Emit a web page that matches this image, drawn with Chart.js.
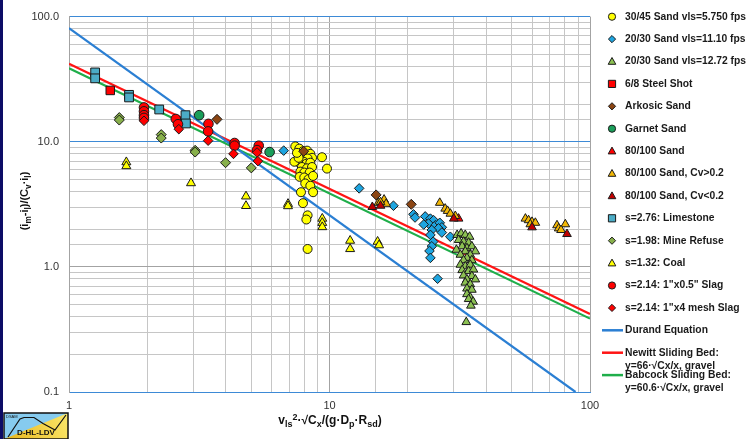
<!DOCTYPE html>
<html>
<head>
<meta charset="utf-8">
<script src="https://cdn.jsdelivr.net/npm/chart.js@4.4.0/dist/chart.umd.min.js"></script>
<style>
  html, body { margin: 0; padding: 0; background: #fff; }
  #caixa { position: relative; width: 746px; height: 439px; }
  canvas { display: block; }
</style>
</head>
<body>
<div id="caixa"><canvas id="grafico" width="746" height="439"></canvas></div>
<script>
// pontos: [x, y]
const sand3045 = [[7.39,9.18],[7.66,8.81],[7.91,8.39],[7.77,7.80],[8.20,8.49],[8.44,8.00],[8.57,7.44],[8.24,7.35],[7.96,6.92],[7.73,6.67],[8.15,6.67],[8.44,6.80],[7.84,6.28],[8.20,6.13],[8.57,6.28],[7.73,5.77],[8.00,5.67],[8.39,5.67],[7.68,5.24],[8.00,5.18],[8.31,5.02],[8.65,5.33],[8.07,4.64],[8.44,4.45],[7.77,3.95],[8.65,3.95],[7.91,3.23],[8.24,2.58],[8.15,2.39],[8.24,1.39],[9.36,7.52],[9.78,6.10],[7.33,6.92],[7.61,7.44],[7.50,8.15]];
const sand2030Lento = [[6.67,8.49],[13.0,4.24],[17.6,3.08],[21.0,2.63],[21.3,2.48],[23.3,2.53],[24.4,2.43],[25.1,2.36],[24.0,2.22],[23.0,2.18],[25.5,2.15],[26.5,2.25],[27.0,2.07],[26.2,2.03],[24.7,1.97],[27.0,1.88],[29.1,1.74],[24.4,1.80],[25.0,1.59],[24.7,1.46],[24.2,1.34],[24.4,1.18],[26.0,0.804]];
const sand2030Rapido = [[30.9,1.80],[32.0,1.85],[33.2,1.80],[34.5,1.74],[31.3,1.64],[32.7,1.59],[34.2,1.56],[32.3,1.46],[33.7,1.41],[35.2,1.46],[30.7,1.37],[33.2,1.33],[36.3,1.33],[31.8,1.25],[34.7,1.25],[33.7,1.18],[32.7,1.13],[35.2,1.13],[31.8,1.04],[33.2,1.01],[34.7,1.04],[32.3,0.942],[34.2,0.925],[35.7,0.952],[32.7,0.854],[35.2,0.845],[33.7,0.794],[36.3,0.794],[33.2,0.748],[34.7,0.726],[33.7,0.671],[35.2,0.656],[33.7,0.605],[34.7,0.570],[34.2,0.553],[35.6,0.527],[34.9,0.490],[33.5,0.362]];
const steelShot = [[1.44,25.7]];
const arkosic = [[3.70,15.1],[7.96,8.39],[15.1,3.76],[20.6,3.16]];
const garnet = [[3.16,16.3],[5.89,8.27]];
const sand80100 = [[31.3,2.43]];
const sand80100Alto = [[15.4,3.25],[16.2,3.45],[16.5,3.19],[15.7,3.29],[26.5,3.25],[27.8,2.92],[28.4,2.80],[29.1,2.66],[30.4,2.55],[56.5,2.43],[58.1,2.36],[59.9,2.29],[61.7,2.25],[59.0,2.19],[74.7,2.15],[80.4,2.19],[75.8,2.03],[77.4,1.97]];
const sand80100Baixo = [[14.6,3.01],[15.7,3.08],[30.0,2.43],[59.9,2.07],[81.6,1.83]];
const limestone = [[1.26,35.8],[1.26,32.1],[1.70,23.7],[1.70,22.6],[2.22,18.1],[2.80,16.3],[2.81,14.0]];
const mineRefuse = [[1.56,15.6],[1.56,14.9],[2.26,11.4],[2.26,10.7],[3.05,8.54],[3.05,8.27],[3.99,6.80],[5.01,6.18]];
const coal = [[1.66,6.87],[1.66,6.39],[2.94,4.67],[4.78,3.66],[4.78,3.07],[6.93,3.19],[6.93,3.06],[9.38,2.43],[9.38,2.25],[9.38,2.08],[12.0,1.62],[12.0,1.39],[15.3,1.59],[15.5,1.49]];
const slagGrosso = [[1.94,18.8],[1.94,17.5],[1.94,16.3],[1.94,15.5],[2.57,15.2],[2.62,13.8],[3.43,13.9],[3.42,12.1],[4.32,9.77],[4.32,9.30],[5.35,9.30],[5.27,8.57]];
const slagMesh = [[1.94,14.7],[2.64,12.6],[3.42,10.2],[4.28,8.0],[5.27,8.2],[5.31,7.0]];

const durand = [[1,81],[88,0.1]];
const newitt = [[1,42],[100,0.42]];
const babcock = [[1,38.6],[100,0.386]];

const ticksX = [1, 10, 100];
const ticksY = [0.1, 1, 10, 100];

const FONTE = '"Liberation Sans", Arial, sans-serif';

const series = [
  { label: '30/45 Sand vls=5.750 fps', dados: sand3045, forma: 'circle', cor: '#ffff00', r: 4.5 },
  { label: '20/30 Sand vls=11.10 fps', dados: sand2030Lento, forma: 'rectRot', cor: '#1ea5e0', r: 4.8 },
  { label: '20/30 Sand vls=12.72 fps', dados: sand2030Rapido, forma: 'triangle', cor: '#8cc152', r: 5 },
  { label: '6/8 Steel Shot', dados: steelShot, forma: 'rect', cor: '#ff0000', r: 6 },
  { label: 'Arkosic Sand', dados: arkosic, forma: 'rectRot', cor: '#8b4513', r: 5 },
  { label: 'Garnet Sand', dados: garnet, forma: 'circle', cor: '#1a9e5a', r: 4.8 },
  { label: '80/100 Sand', dados: sand80100, forma: 'triangle', cor: '#ff0000', r: 5 },
  { label: '80/100 Sand, Cv>0.2', dados: sand80100Alto, forma: 'triangle', cor: '#f2b705', r: 5 },
  { label: '80/100 Sand, Cv<0.2', dados: sand80100Baixo, forma: 'triangle', cor: '#c00000', r: 5 },
  { label: 's=2.76: Limestone', dados: limestone, forma: 'rect', cor: '#4bacc6', r: 6.2 },
  { label: 's=1.98: Mine Refuse', dados: mineRefuse, forma: 'rectRot', cor: '#88b04b', r: 5 },
  { label: 's=1.32: Coal', dados: coal, forma: 'triangle', cor: '#ffff00', r: 5.2 },
  { label: 's=2.14: 1"x0.5" Slag', dados: slagGrosso, forma: 'circle', cor: '#ff0000', r: 4.8 },
  { label: 's=2.14: 1"x4 mesh Slag', dados: slagMesh, forma: 'rectRot', cor: '#ff0000', r: 4.8 }
];

const retas = [
  { label: 'Durand Equation', dados: durand, cor: '#2b7fd3' },
  { label: ['Newitt Sliding Bed:', 'y=66·√Cx/x, gravel'], dados: newitt, cor: '#ff1414' },
  { label: ['Babcock Sliding Bed:', 'y=60.6·√Cx/x, gravel'], dados: babcock, cor: '#1fae4a' }
];

const datasets = series.map((s, i) => ({
  label: s.label,
  data: s.dados.map(p => ({ x: p[0], y: p[1] })),
  pointStyle: s.forma,
  pointRadius: s.r,
  pointBackgroundColor: s.cor,
  pointBorderColor: '#1a1a1a',
  pointBorderWidth: 1,
  showLine: false,
  order: -i
})).concat(retas.map(r => ({
  label: r.label,
  data: r.dados.map(p => ({ x: p[0], y: p[1] })),
  showLine: true,
  borderColor: r.cor,
  borderWidth: 2.2,
  pointRadius: 0,
  order: 100,
  ehReta: true
})));

function ehDecada(v, lista) {
  return lista.some(t => Math.abs(Math.log10(v) - Math.log10(t)) < 1e-6);
}

function marcador(ctx, forma, x, y, r, cor) {
  ctx.save();
  ctx.fillStyle = cor;
  ctx.strokeStyle = '#1a1a1a';
  ctx.lineWidth = 1;
  ctx.beginPath();
  if (forma === 'circle') {
    ctx.arc(x, y, r, 0, Math.PI * 2);
  } else if (forma === 'rect') {
    ctx.rect(x - r, y - r, 2 * r, 2 * r);
  } else if (forma === 'rectRot') {
    ctx.moveTo(x, y - r); ctx.lineTo(x + r, y); ctx.lineTo(x, y + r); ctx.lineTo(x - r, y); ctx.closePath();
  } else {
    ctx.moveTo(x, y - r); ctx.lineTo(x + r * 0.95, y + r * 0.7); ctx.lineTo(x - r * 0.95, y + r * 0.7); ctx.closePath();
  }
  ctx.fill();
  ctx.stroke();
  ctx.restore();
}

function textoRico(ctx, partes, cx, cy, tam) {
  // partes: [texto, 'n' | 'sub' | 'sup']
  const tamanho = tipo => (tipo === 'n' ? tam : tam * 0.75);
  const larguras = partes.map(([t, tipo]) => {
    ctx.font = `bold ${tamanho(tipo)}px ${FONTE}`;
    return ctx.measureText(t).width;
  });
  let x = cx - larguras.reduce((a, b) => a + b, 0) / 2;
  ctx.textAlign = 'left';
  ctx.textBaseline = 'middle';
  partes.forEach(([t, tipo], i) => {
    ctx.font = `bold ${tamanho(tipo)}px ${FONTE}`;
    const dy = tipo === 'sub' ? tam * 0.32 : tipo === 'sup' ? -tam * 0.3 : 0;
    ctx.fillText(t, x, cy + dy);
    x += larguras[i];
  });
}

const extras = {
  id: 'extras',
  afterDraw(chart) {
    const ctx = chart.ctx;
    ctx.save();
    ctx.fillStyle = '#111';

    // títulos dos eixos
    textoRico(ctx, [['v', 'n'], ['ls', 'sub'], ['2', 'sup'], ['·√C', 'n'], ['x', 'sub'], ['/(g·D', 'n'], ['p', 'sub'], ['·R', 'n'], ['sd', 'sub'], [')', 'n']], 330, 421, 12);
    ctx.save();
    ctx.translate(25, 201);
    ctx.rotate(-Math.PI / 2);
    textoRico(ctx, [['(i', 'n'], ['m', 'sub'], ['-i', 'n'], ['l', 'sub'], [')/(C', 'n'], ['v', 'sub'], ['·i', 'n'], ['l', 'sub'], [')', 'n']], 0, 0, 11);
    ctx.restore();

    // legenda
    ctx.font = `bold 10.3px ${FONTE}`;
    ctx.textAlign = 'left';
    ctx.textBaseline = 'middle';
    chart.data.datasets.forEach((ds, i) => {
      const y = 16.7 + i * 22.4;
      if (ds.ehReta) {
        ctx.strokeStyle = ds.borderColor;
        ctx.lineWidth = 2.5;
        ctx.beginPath(); ctx.moveTo(602, y); ctx.lineTo(623, y); ctx.stroke();
      } else {
        const r = ds.pointStyle === 'triangle' ? 4 : 3.6;
        marcador(ctx, ds.pointStyle, 612, y, r, ds.pointBackgroundColor);
      }
      ctx.fillStyle = '#1a1a1a';
      const linhas = Array.isArray(ds.label) ? ds.label : [ds.label];
      linhas.forEach((t, k) => ctx.fillText(t, 625, y + k * 13));
    });

    // borda esquerda
    ctx.fillStyle = '#0c0c66';
    ctx.fillRect(0, 0, 3, 439);

    // logotipo
    ctx.fillStyle = '#86cbef';
    ctx.fillRect(4, 413, 64, 26);
    const grad = ctx.createLinearGradient(4, 439, 68, 413);
    grad.addColorStop(0, '#e7b51c');
    grad.addColorStop(1, '#fbe86a');
    ctx.fillStyle = grad;
    ctx.beginPath(); ctx.moveTo(4, 439); ctx.lineTo(68, 413); ctx.lineTo(68, 439); ctx.closePath(); ctx.fill();
    ctx.strokeStyle = '#111';
    ctx.lineWidth = 1.2;
    ctx.beginPath();
    ctx.moveTo(8, 437); ctx.lineTo(20, 419); ctx.lineTo(24, 417.5); ctx.lineTo(34, 417.5);
    ctx.lineTo(43, 423.5); ctx.lineTo(55, 430); ctx.lineTo(66, 415);
    ctx.stroke();
    ctx.lineWidth = 1.5;
    ctx.strokeRect(4, 413, 64, 26);
    ctx.fillStyle = '#111';
    ctx.font = `bold 8px ${FONTE}`;
    ctx.textAlign = 'center';
    ctx.fillText('D-HL-LDV', 36, 433);
    ctx.font = `4px ${FONTE}`;
    ctx.textAlign = 'left';
    ctx.fillText('DSAM', 6, 416.5);
    ctx.restore();
  }
};

function corGrade(v, azuis, escuras) {
  if (ehDecada(v, azuis)) return '#3d8ad6';
  if (ehDecada(v, escuras)) return '#a3a3a3';
  return '#c6c6c6';
}

new Chart(document.getElementById('grafico'), {
  type: 'scatter',
  data: { datasets },
  options: {
    responsive: false,
    animation: false,
    devicePixelRatio: 1,
    layout: { padding: { top: 10, right: 156, left: 0, bottom: 0 } },
    plugins: { legend: { display: false }, tooltip: { enabled: false } },
    scales: {
      x: {
        type: 'logarithmic',
        min: 1,
        max: 100,
        afterFit: s => { s.height = 47; },
        border: { color: '#3d8ad6', width: 1 },
        grid: { drawTicks: false, lineWidth: 1, color: c => corGrade(c.tick.value, [], ticksX) },
        ticks: {
          autoSkip: false, maxRotation: 0, padding: 7, color: '#333',
          font: { family: FONTE, size: 11 },
          callback: v => ehDecada(v, ticksX) ? String(Math.round(v)) : ''
        }
      },
      y: {
        type: 'logarithmic',
        min: 0.1,
        max: 100,
        afterFit: s => { s.width = 69; },
        border: { color: '#a3a3a3', width: 1 },
        grid: { drawTicks: false, lineWidth: 1, color: c => corGrade(c.tick.value, [0.1, 10, 100], [1]) },
        ticks: {
          autoSkip: false, padding: 10, color: '#333',
          font: { family: FONTE, size: 11 },
          callback: v => ehDecada(v, ticksY) ? Number(v).toFixed(1) : ''
        }
      }
    }
  },
  plugins: [extras]
});
</script>
</body>
</html>
